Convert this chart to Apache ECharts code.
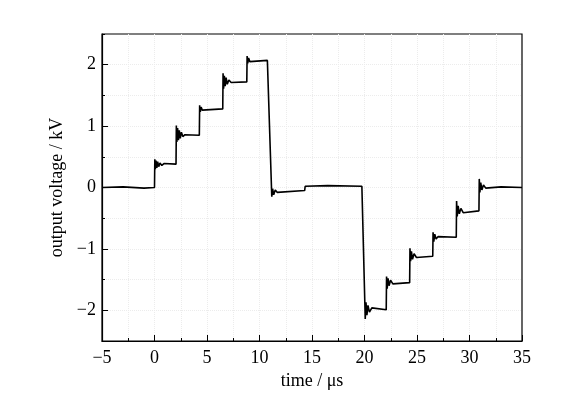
<!DOCTYPE html>
<html>
<head>
<meta charset="utf-8">
<script src="https://cdn.jsdelivr.net/npm/echarts@6/dist/echarts.min.js"></script>
<style>
  html, body { margin: 0; padding: 0; background: #ffffff; }
</style>
</head>
<body>
<div id="main" style="width: 584px; height: 397px"></div>
<script>
  // measured trace, time in us, voltage in kV
  const time = [
    -5, -3, -1, 0,
    0.03, 0.08, 0.14, 0.22, 0.3, 0.4, 0.52, 0.7, 0.9, 2.05,
    2.08, 2.13, 2.2, 2.28, 2.36, 2.45, 2.56, 2.7, 2.9, 4.27,
    4.3, 4.36, 4.44, 4.55, 4.7, 6.5,
    6.53, 6.58, 6.65, 6.73, 6.82, 6.93, 7.08, 7.3, 8.79,
    8.82, 8.88, 8.96, 9.08, 9.25, 10.75,
    11.17, 11.25, 11.35, 11.5, 11.7, 14.3, 14.35, 16.5, 19.75,
    20.07, 20.14, 20.23, 20.33, 20.47, 20.7, 22.07,
    22.1, 22.16, 22.24, 22.34, 22.48, 22.7, 24.3,
    24.33, 24.39, 24.47, 24.57, 24.72, 24.95, 26.5,
    26.53, 26.6, 26.69, 26.82, 27.0, 28.74,
    28.77, 28.83, 28.92, 29.03, 29.18, 29.4, 30.9,
    30.93, 30.99, 31.07, 31.18, 31.33, 31.55, 33, 35
  ]
  const voltage = [
    0, 0.01, -0.01, 0,
    0.46, 0.3, 0.44, 0.32, 0.42, 0.34, 0.4, 0.36, 0.39, 0.38,
    1.01, 0.74, 0.97, 0.77, 0.93, 0.8, 0.9, 0.83, 0.86, 0.85,
    1.34, 1.23, 1.31, 1.26, 1.29, 1.28,
    1.86, 1.61, 1.82, 1.65, 1.79, 1.68, 1.75, 1.71, 1.72,
    2.14, 2.02, 2.11, 2.05, 2.08, 2.07,
    -0.15, -0.02, -0.12, -0.04, -0.08, -0.05, 0.02, 0.03, 0.02,
    -2.14, -1.87, -2.08, -1.92, -2.03, -1.96, -1.99,
    -1.45, -1.65, -1.48, -1.6, -1.51, -1.57, -1.55,
    -0.99, -1.2, -1.04, -1.17, -1.08, -1.14, -1.12,
    -0.73, -0.88, -0.76, -0.84, -0.8, -0.81,
    -0.22, -0.47, -0.3, -0.43, -0.34, -0.41, -0.38,
    0.14, -0.08, 0.08, -0.04, 0.04, -0.01, 0.01, 0
  ]
  const xTicks = [-5, 0, 5, 10, 15, 20, 25, 30, 35]
  const yTicks = [-2, -1, 0, 1, 2]

  const font = 'Liberation Serif, Times New Roman, serif'
  const minus = (v) => String(v).replace('-', '\u2212')
  const points = time.map((t, i) => [t, voltage[i]])
  const grid = { color: '#ececec', type: 'dotted' }

  const chart = echarts.init(document.getElementById('main'))
  chart.setOption({
    animation: false,
    grid: {
      left: 102,
      right: 62,
      top: 34,
      bottom: 56,
      show: true,
      borderColor: '#000',
      borderWidth: 1.2,
    },
    xAxis: {
      type: 'value',
      min: xTicks[0],
      max: xTicks[xTicks.length - 1],
      interval: 5,
      name: 'time / \u03bcs',
      nameLocation: 'middle',
      nameGap: 31,
      nameTextStyle: { fontFamily: font, fontSize: 18, color: '#000' },
      axisLine: { onZero: false, lineStyle: { color: '#000', width: 1.2 } },
      axisTick: { inside: true, length: 6, lineStyle: { color: '#000' } },
      minorTick: { show: true, splitNumber: 2, length: 3, lineStyle: { color: '#000' } },
      axisLabel: {
        margin: 8,
        fontFamily: font,
        fontSize: 18,
        color: '#000',
        formatter: minus,
      },
      splitLine: { show: true, showMinLine: false, showMaxLine: false, lineStyle: grid },
      minorSplitLine: { show: true, lineStyle: grid },
    },
    yAxis: [
      {
        type: 'value',
        min: -2.5,
        max: 2.5,
        interval: 0.5,
        axisLine: { show: true, onZero: false, lineStyle: { color: '#000', width: 1.2 } },
        axisTick: { inside: true, length: 3, lineStyle: { color: '#000' } },
        axisLabel: { show: false },
        splitLine: { show: true, showMinLine: false, showMaxLine: false, lineStyle: grid },
      },
      {
        type: 'value',
        min: -2.5,
        max: 2.5,
        position: 'left',
        name: 'output voltage / kV',
        nameLocation: 'middle',
        nameGap: 36,
        nameTextStyle: { fontFamily: font, fontSize: 18, color: '#000' },
        axisLine: { show: false, onZero: false },
        axisTick: {
          show: true,
          inside: true,
          length: 6,
          customValues: yTicks,
          lineStyle: { color: '#000' },
        },
        axisLabel: {
          margin: 6,
          customValues: yTicks,
          fontFamily: font,
          fontSize: 18,
          color: '#000',
          formatter: minus,
        },
        splitLine: { show: false },
      },
    ],
    series: [
      {
        type: 'line',
        yAxisIndex: 0,
        data: points,
        symbol: 'none',
        lineStyle: { color: '#000', width: 1.6 },
      },
    ],
  })
</script>
</body>
</html>
